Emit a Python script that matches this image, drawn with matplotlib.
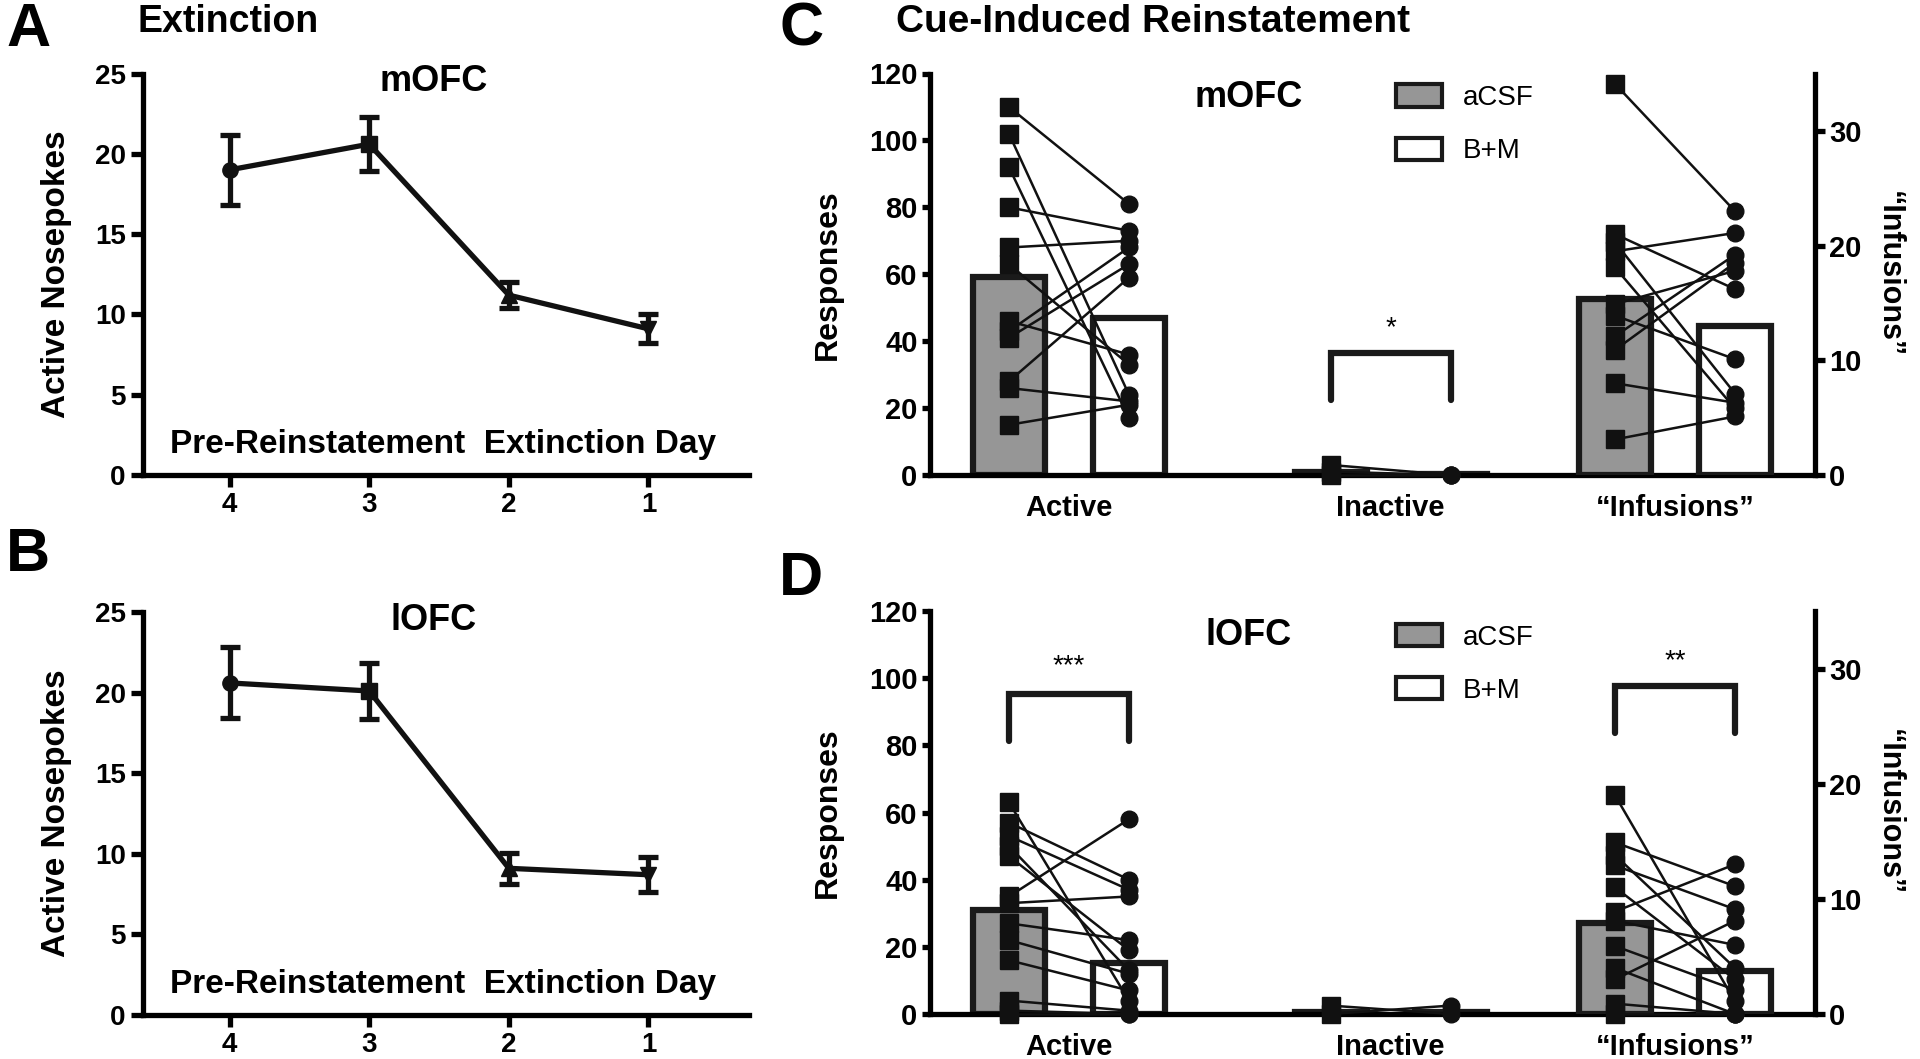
import matplotlib
matplotlib.use("Agg")
import matplotlib.pyplot as plt
from matplotlib.patches import Patch

plt.rcParams['font.family'] = ['Liberation Sans', 'DejaVu Sans']
plt.rcParams['font.weight'] = 'bold'

# extinction sessions (panels A, B)
days = ['4', '3', '2', '1']
day_markers = ['o', 's', '^', 'v']
mofc_mean = [19.0, 20.6, 11.2, 9.1]
mofc_sem = [2.2, 1.7, 0.8, 0.9]
lofc_mean = [20.6, 20.1, 9.1, 8.7]
lofc_sem = [2.2, 1.75, 0.95, 1.1]

# reinstatement test (panels C, D)
groups = ['Active', 'Inactive', '\u201cInfusions\u201d']
treatments = ['aCSF', 'B+M']

c_active_acsf = [110, 102, 92, 80, 68, 63, 46, 43, 41, 28, 26, 15]
c_active_bm = [81, 24, 17, 73, 70, 33, 36, 68, 63, 59, 22, 21]
c_inactive_acsf = [3, 1, 0]
c_inactive_bm = [0, 0, 0]
c_inf_acsf = [34.1, 21.0, 20.3, 19.5, 18.1, 14.9, 13.9, 12.1, 10.9, 8.0, 3.1]
c_inf_bm = [23.0, 16.2, 7.1, 21.1, 5.8, 17.8, 10.1, 19.2, 18.5, 6.3, 5.1]
c_bar_acsf = [59.3, 1.0, 15.3]
c_bar_bm = [47.0, 0.2, 13.0]

d_active_acsf = [63, 57, 53, 50, 47, 35, 33, 27, 22, 16, 4, 1, 0]
d_active_bm = [4, 40, 37, 13, 19, 58, 35, 22, 12, 7, 1, 0, 0]
d_inactive_acsf = [2.5, 0]
d_inactive_bm = [0, 2.5]
d_inf_acsf = [19.0, 14.9, 13.8, 12.9, 11.0, 8.9, 8.1, 5.9, 4.0, 3.0, 0.9, 0]
d_inf_bm = [1.1, 11.1, 4.0, 9.1, 3.0, 13.0, 6.0, 2.1, 0, 8.1, 0, 0]
d_bar_acsf = [31.0, 0.5, 7.9]
d_bar_bm = [15.1, 0.5, 3.7]

W, H = 1920, 1059
fig = plt.figure(figsize=(W / 100, H / 100), dpi=100)


def box(l, r, t, b):
    return [l / W, 1 - b / H, (r - l) / W, (b - t) / H]


def extinction(rect, mean, sem, name):
    ax = fig.add_axes(rect)
    x = list(range(len(days)))
    ax.plot(x, mean, color='#111111', lw=3.8, zorder=2)
    for i in x:
        ax.errorbar(x[i], mean[i], yerr=sem[i], fmt=day_markers[i], color='#111111',
                    ms=11, elinewidth=3.8, capsize=7, capthick=3.8, zorder=3)
    ax.set_xlim(-0.62, 3.72)
    ax.set_ylim(0, 25)
    ax.set_xticks(x)
    ax.set_xticklabels(days)
    ax.set_yticks([0, 5, 10, 15, 20, 25])
    for s in ['top', 'right']:
        ax.spines[s].set_visible(False)
    for s in ['left', 'bottom']:
        ax.spines[s].set_linewidth(3.8)
    ax.tick_params(width=3.8, length=8.5, labelsize=20, pad=4)
    for t in ax.get_xticklabels() + ax.get_yticklabels():
        t.set_fontweight('bold')
    ax.set_ylabel('Active Nosepokes', fontsize=24, fontweight='bold')
    ax.yaxis.set_label_coords(-0.117, 0.5)
    ax.text(0.48, 0.98, name, transform=ax.transAxes, ha='center', va='center',
            fontsize=26, fontweight='bold')
    ax.text(0.495, 0.075, 'Pre-Reinstatement  Extinction Day', transform=ax.transAxes,
            ha='center', va='center', fontsize=24, fontweight='bold')
    return ax


def paired(ax, xc, a, b):
    for ya, yb in zip(a, b):
        ax.plot([xc - 0.5, xc + 0.5], [ya, yb], color='#111111', lw=1.8, zorder=4, clip_on=False)
    ax.plot([xc - 0.5] * len(a), a, 's', color='#111111', ms=13, zorder=5, clip_on=False, lw=0)
    ax.plot([xc + 0.5] * len(b), b, 'o', color='#111111', ms=12, zorder=5, clip_on=False, lw=0)


def bracket(ax, xc, lo, hi, stars, sy):
    ax.plot([xc - 0.5, xc - 0.5, xc + 0.5, xc + 0.5], [lo, hi, hi, lo], color='#1a1a1a',
            lw=4.5, solid_capstyle='round', solid_joinstyle='miter', zorder=6, clip_on=False)
    ax.text(xc, sy, stars, ha='center', va='center', fontsize=20, fontweight='normal')


def reinstatement(rect, data, bars_a, bars_b, name, legend_y, brackets):
    ax = fig.add_axes(rect)
    axr = ax.twinx()
    gx = [0, 2.68, 5.05]
    ax.set_xlim(-1.158, 6.217)
    ax.set_ylim(0, 120)
    axr.set_ylim(0, 35)
    for i, (a, b) in enumerate(data):
        tgt = axr if i == 2 else ax
        tgt.bar(gx[i] - 0.5, bars_a[i], width=0.6, color='#969696', edgecolor='#1a1a1a',
                lw=4.5, zorder=2)
        tgt.bar(gx[i] + 0.5, bars_b[i], width=0.6, color='white', edgecolor='#1a1a1a',
                lw=4.5, zorder=2)
        paired(tgt, gx[i], a, b)
    for lo, hi, stars, sy, gi in brackets:
        bracket(ax, gx[gi], lo, hi, stars, sy)
    ax.set_xticks(gx)
    ax.set_xticklabels(groups)
    ax.set_yticks(range(0, 121, 20))
    axr.set_yticks([0, 10, 20, 30])
    for s in ['top', 'right']:
        ax.spines[s].set_visible(False)
    for s in ['top', 'left', 'bottom']:
        axr.spines[s].set_visible(False)
    for s in ['left', 'bottom']:
        ax.spines[s].set_linewidth(3.8)
    axr.spines['right'].set_linewidth(3.8)
    ax.tick_params(axis='y', width=3.8, length=6, labelsize=21, pad=3)
    axr.tick_params(axis='y', width=3.8, length=7, labelsize=21, pad=3)
    ax.tick_params(axis='x', length=0, labelsize=21, pad=14)
    for t in ax.get_xticklabels() + ax.get_yticklabels() + axr.get_yticklabels():
        t.set_fontweight('bold')
    ax.set_ylabel('Responses', fontsize=23, fontweight='bold')
    ax.yaxis.set_label_coords(-0.099, 0.5)
    pos = ax.get_position()
    fig.text(1889 / W, pos.y0 + pos.height / 2, '\u201cInfusions\u201d', rotation=270,
             ha='center', va='center', fontsize=22, fontweight='bold')
    ax.text(0.36, 0.94, name, transform=ax.transAxes, ha='center', va='center',
            fontsize=26, fontweight='bold')
    handles = [Patch(facecolor='#969696', edgecolor='#1a1a1a', lw=3),
               Patch(facecolor='white', edgecolor='#1a1a1a', lw=3)]
    leg = axr.legend(handles, treatments, loc='upper left', bbox_to_anchor=(0.527, legend_y),
                     frameon=False, fontsize=20, handlelength=1.65, handleheight=0.86,
                     labelspacing=0.95, handletextpad=0.75, borderpad=0, borderaxespad=0)
    for t in leg.get_texts():
        t.set_fontweight('normal')
    return ax


extinction(box(143, 749, 73.5, 475), mofc_mean, mofc_sem, 'mOFC')
extinction(box(143, 749, 612, 1015), lofc_mean, lofc_sem, 'lOFC')

reinstatement(box(930, 1815, 73.5, 475),
              [(c_active_acsf, c_active_bm), (c_inactive_acsf, c_inactive_bm), (c_inf_acsf, c_inf_bm)],
              c_bar_acsf, c_bar_bm, 'mOFC', 0.973,
              [(22.4, 36.5, '*', 44, 1)])
reinstatement(box(930, 1815, 611, 1014),
              [(d_active_acsf, d_active_bm), (d_inactive_acsf, d_inactive_bm), (d_inf_acsf, d_inf_bm)],
              d_bar_acsf, d_bar_bm, 'lOFC', 0.968,
              [(81.4, 95.2, '***', 103.7, 0), (83.8, 97.7, '**', 105, 2)])

fig.text(6 / W, 1 - 2 / H, 'A', ha='left', va='top', fontsize=44, fontweight='bold')
fig.text(138 / W, 1 - 4 / H, 'Extinction', ha='left', va='top', fontsize=27, fontweight='bold')
fig.text(6 / W, 1 - 527 / H, 'B', ha='left', va='top', fontsize=44, fontweight='bold')
fig.text(779 / W, 1 - 2 / H, 'C', ha='left', va='top', fontsize=44, fontweight='bold')
fig.text(896 / W, 1 - 4 / H, 'Cue-Induced Reinstatement', ha='left', va='top', fontsize=28,
         fontweight='bold')
fig.text(779 / W, 1 - 551 / H, 'D', ha='left', va='top', fontsize=44, fontweight='bold')

fig.savefig('out.png', dpi=100)
